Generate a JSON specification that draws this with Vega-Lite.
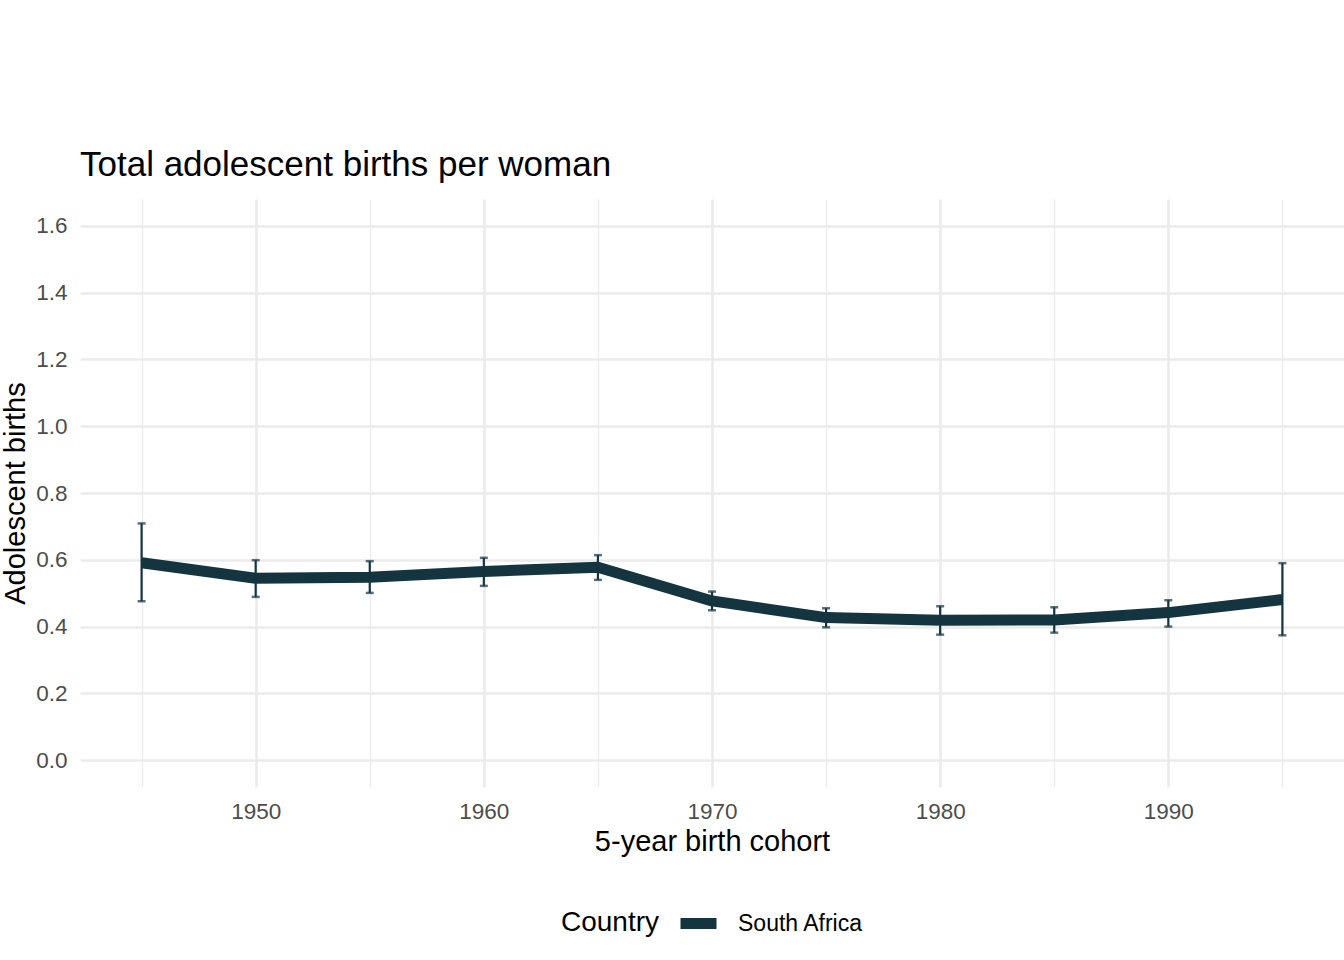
{
  "$schema": "https://vega.github.io/schema/vega-lite/v6.json",
  "width": 1264,
  "height": 588,
  "autosize": {"type": "none"},
  "padding": {"left": 80, "top": 199, "right": 0, "bottom": 173},
  "background": "white",
  "title": {
    "text": "Total adolescent births per woman",
    "anchor": "start",
    "frame": "group",
    "baseline": "alphabetic",
    "offset": -12,
    "font": "Liberation Sans",
    "fontSize": 35,
    "fontWeight": "normal",
    "color": "black"
  },
  "data": {
    "values": [
      {"cohort": 1945, "births": 0.591, "lower": 0.476, "upper": 0.709, "country": "South Africa"},
      {"cohort": 1950, "births": 0.545, "lower": 0.489, "upper": 0.599, "country": "South Africa"},
      {"cohort": 1955, "births": 0.548, "lower": 0.501, "upper": 0.596, "country": "South Africa"},
      {"cohort": 1960, "births": 0.565, "lower": 0.522, "upper": 0.606, "country": "South Africa"},
      {"cohort": 1965, "births": 0.578, "lower": 0.540, "upper": 0.614, "country": "South Africa"},
      {"cohort": 1970, "births": 0.477, "lower": 0.449, "upper": 0.505, "country": "South Africa"},
      {"cohort": 1975, "births": 0.427, "lower": 0.398, "upper": 0.455, "country": "South Africa"},
      {"cohort": 1980, "births": 0.419, "lower": 0.376, "upper": 0.461, "country": "South Africa"},
      {"cohort": 1985, "births": 0.420, "lower": 0.382, "upper": 0.458, "country": "South Africa"},
      {"cohort": 1990, "births": 0.442, "lower": 0.400, "upper": 0.479, "country": "South Africa"},
      {"cohort": 1995, "births": 0.481, "lower": 0.374, "upper": 0.590, "country": "South Africa"}
    ]
  },
  "layer": [
    {
      "mark": {"type": "line", "strokeWidth": 11, "strokeCap": "butt", "strokeJoin": "round"},
      "encoding": {
        "x": {
          "field": "cohort",
          "type": "quantitative",
          "title": "5-year birth cohort",
          "scale": {"domain": [1942.3, 1997.7], "nice": false, "zero": false},
          "axis": {
            "values": [1945, 1950, 1955, 1960, 1965, 1970, 1975, 1980, 1985, 1990, 1995],
            "format": "d",
            "labelExpr": "datum.value % 10 === 0 ? datum.label : ''",
            "gridWidth": {"condition": {"test": "datum.value % 10 === 0", "value": 2.6}, "value": 1.3},
            "labelPadding": 13,
            "titlePadding": 5
          }
        },
        "y": {
          "field": "births",
          "type": "quantitative",
          "title": "Adolescent births",
          "scale": {"domain": [-0.08, 1.68], "nice": false, "zero": false},
          "axis": {
            "values": [0, 0.1, 0.2, 0.3, 0.4, 0.5, 0.6, 0.7, 0.8, 0.9, 1.0, 1.1, 1.2, 1.3, 1.4, 1.5, 1.6],
            "format": ".1f",
            "labelExpr": "round(datum.value * 10) % 2 === 0 ? datum.label : ''",
            "gridWidth": {"condition": {"test": "round(datum.value * 10) % 2 === 0", "value": 2.6}, "value": 1.3},
            "labelPadding": 13,
            "titlePadding": 5
          }
        },
        "color": {
          "field": "country",
          "type": "nominal",
          "title": "Country",
          "scale": {"range": ["#14353f"]},
          "legend": {
            "orient": "none",
            "legendX": 481,
            "legendY": 701,
            "direction": "horizontal",
            "titleOrient": "left",
            "titleBaseline": "middle",
            "titlePadding": 15,
            "symbolType": "stroke",
            "symbolSize": 1296,
            "symbolStrokeWidth": 11,
            "labelOffset": 16,
            "padding": 0
          }
        }
      }
    },
    {
      "mark": {
        "type": "errorbar",
        "color": "#14353f",
        "ticks": {"size": 8, "thickness": 2.5},
        "rule": {"strokeWidth": 2.2}
      },
      "encoding": {
        "x": {"field": "cohort", "type": "quantitative"},
        "y": {"field": "lower", "type": "quantitative", "title": "Adolescent births"},
        "y2": {"field": "upper"}
      }
    }
  ],
  "config": {
    "font": "Liberation Sans",
    "view": {"stroke": null},
    "axis": {
      "domain": false,
      "ticks": false,
      "tickSize": 0,
      "grid": true,
      "gridColor": "#ebebeb",
      "labelFont": "Liberation Sans",
      "labelFontSize": 22.5,
      "labelColor": "#4d4d4d",
      "titleFont": "Liberation Sans",
      "titleFontSize": 29,
      "titleFontWeight": "normal",
      "titleColor": "black"
    },
    "legend": {
      "titleFont": "Liberation Sans",
      "titleFontSize": 28,
      "titleFontWeight": "normal",
      "titleColor": "black",
      "labelFont": "Liberation Sans",
      "labelFontSize": 23,
      "labelColor": "black"
    }
  }
}
